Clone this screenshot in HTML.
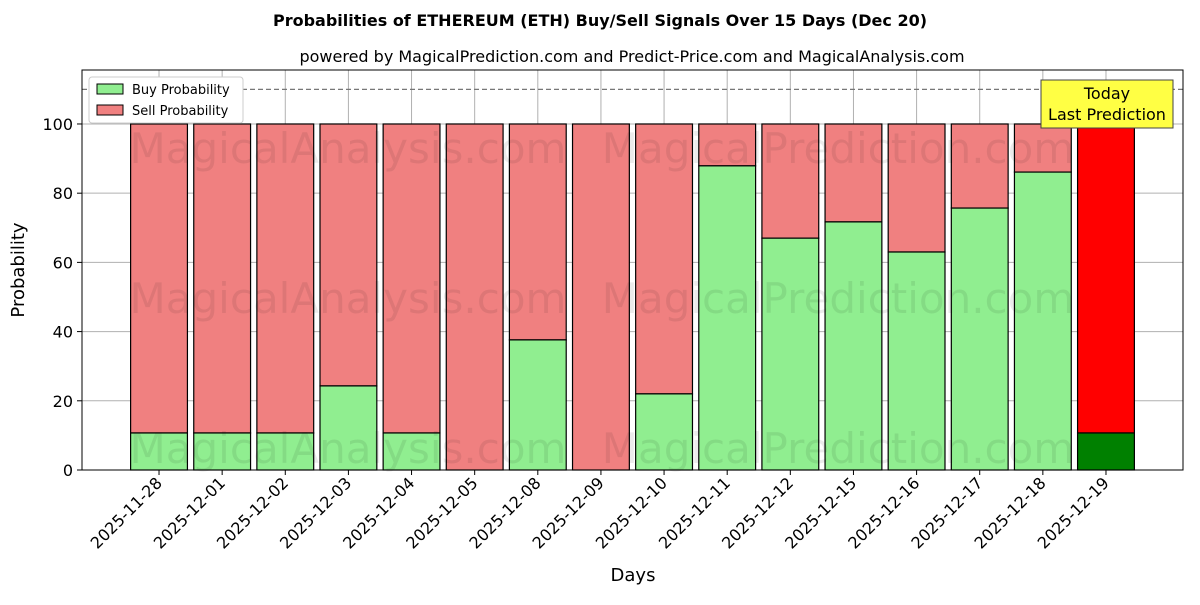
<!DOCTYPE html>
<html><head><meta charset="utf-8">
<style>
html,body{margin:0;padding:0;background:#fff;}
svg text{font-family:"DejaVu Sans","Liberation Sans",sans-serif;}
</style></head>
<body>
<svg id="chart" width="1200" height="600" viewBox="0 0 1200 600" xmlns="http://www.w3.org/2000/svg">
<text x="600" y="26" text-anchor="middle" font-size="16" font-weight="bold">Probabilities of ETHEREUM (ETH) Buy/Sell Signals Over 15 Days (Dec 20)</text>
<text x="632" y="62" text-anchor="middle" font-size="16">powered by MagicalPrediction.com and Predict-Price.com and MagicalAnalysis.com</text>
<g id="grid"></g>
<g id="bars"></g>
<g id="wm" fill="#000" fill-opacity="0.08" font-size="42">
<text x="348" y="163" text-anchor="middle">MagicalAnalysis.com</text>
<text x="838" y="163" text-anchor="middle">MagicalPrediction.com</text>
<text x="348" y="313" text-anchor="middle">MagicalAnalysis.com</text>
<text x="838" y="313" text-anchor="middle">MagicalPrediction.com</text>
<text x="348" y="463" text-anchor="middle">MagicalAnalysis.com</text>
<text x="838" y="463" text-anchor="middle">MagicalPrediction.com</text>
</g>
<g id="axes"></g>
<text x="24" y="270" transform="rotate(-90 24 270)" text-anchor="middle" font-size="18">Probability</text>
<text x="633" y="581" text-anchor="middle" font-size="18">Days</text>
<g>
<rect x="89" y="77" width="154" height="46" fill="#fff" stroke="#ccc" rx="3"/>
<rect x="97" y="84" width="26" height="10" fill="#90ee90" stroke="#000"/>
<text x="132" y="94" font-size="13">Buy Probability</text>
<rect x="97" y="105" width="26" height="10" fill="#f08080" stroke="#000"/>
<text x="132" y="115" font-size="13">Sell Probability</text>
</g>
<g>
<rect x="1041" y="80" width="132" height="48" fill="#ffff44" stroke="#444"/>
<text x="1107" y="99" text-anchor="middle" font-size="16">Today</text>
<text x="1107" y="120" text-anchor="middle" font-size="16">Last Prediction</text>
</g>
</svg>
<script>
const categories=["2025-11-28","2025-12-01","2025-12-02","2025-12-03","2025-12-04","2025-12-05","2025-12-08","2025-12-09","2025-12-10","2025-12-11","2025-12-12","2025-12-15","2025-12-16","2025-12-17","2025-12-18","2025-12-19"];
const buyValues=[10.7,10.7,10.7,24.3,10.7,0,37.6,0,22,87.9,67,71.7,63,75.7,86.1,10.7];
const yTicks=[0,20,40,60,80,100];
const dashedLevel=110;

const NS="http://www.w3.org/2000/svg";
const L=82,R=1183,T=70,B=470;
const xMin=-1.22,xMax=categories.length-1+1.22,yMin=0,yMax=115.6;
const xs=i=>L+(i-xMin)/(xMax-xMin)*(R-L);
const ys=v=>B-(v-yMin)/(yMax-yMin)*(B-T);
function mk(tag,attrs,parent){const e=document.createElementNS(NS,tag);for(const k in attrs)e.setAttribute(k,attrs[k]);parent.appendChild(e);return e;}
const grid=document.getElementById('grid'),bars=document.getElementById('bars'),axes=document.getElementById('axes');
yTicks.forEach(t=>{
  const l=mk('line',{x1:L,x2:R,y1:ys(t),y2:ys(t),stroke:'#b0b0b0','stroke-width':1},grid);
  
  
  const tk=mk('line',{x1:L-5,x2:L,y1:ys(t),y2:ys(t),stroke:'#000'},axes);
  const tx=mk('text',{x:L-9,y:ys(t)+6,'text-anchor':'end','font-size':16},axes);
  tx.textContent=t;
  
  
});
categories.forEach((c,i)=>{
  const x=xs(i);
  const g=mk('line',{x1:x,x2:x,y1:T,y2:B,stroke:'#b0b0b0','stroke-width':1},grid);
  
  
  const w=(xs(0.9)-xs(0));
  const last=i===categories.length-1;
  const b=buyValues[i];
  const sr=mk('rect',{x:x-w/2,y:ys(100),width:w,height:ys(b)-ys(100),fill:last?'#ff0000':'#f08080',stroke:'#000','stroke-width':1.2},bars);
  
  
  const br=mk('rect',{x:x-w/2,y:ys(b),width:w,height:ys(0)-ys(b),fill:last?'#008000':'#90ee90',stroke:'#000','stroke-width':1.2},bars);
  
  
  mk('line',{x1:x,x2:x,y1:B,y2:B+5,stroke:'#000'},axes);
  const tx=mk('text',{x:x+4,y:B+14,'text-anchor':'end','font-size':16,transform:`rotate(-45 ${x+4} ${B+14})`},axes);
  tx.textContent=c;
  
  
});
const d=mk('line',{x1:L,x2:R,y1:ys(dashedLevel),y2:ys(dashedLevel),stroke:'#777','stroke-dasharray':'5,3','stroke-width':1.2},bars);


const fr=mk('rect',{x:L,y:T,width:R-L,height:B-T,fill:'none',stroke:'#000','stroke-width':1},axes);


</script>
</body></html>
